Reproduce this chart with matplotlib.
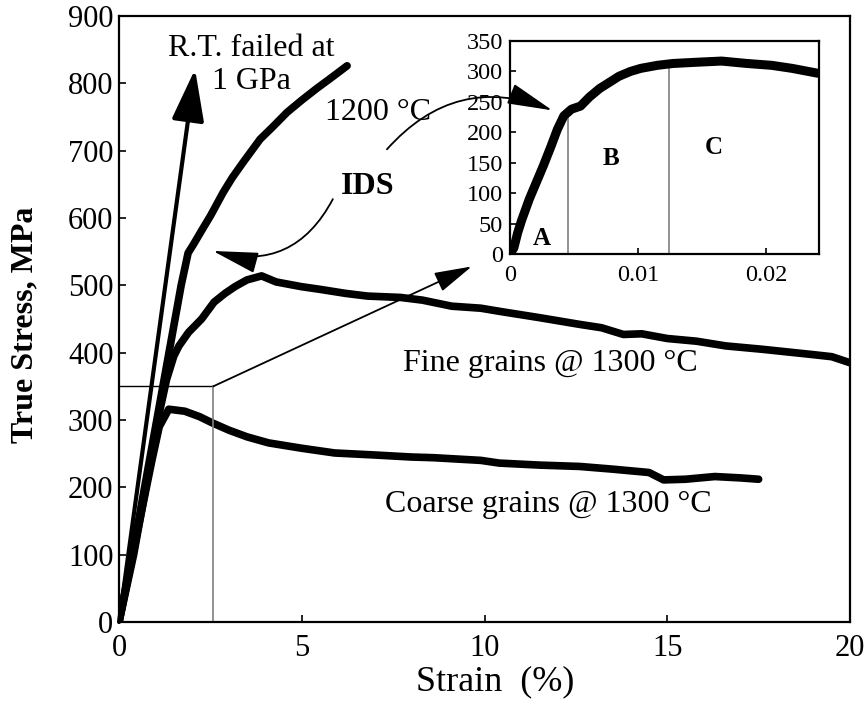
import matplotlib.pyplot as plt

plt.rcParams['font.family'] = ['Liberation Serif', 'DejaVu Serif']

# main plot: strain (%) vs true stress (MPa)
rt_strain = [0, 2.08]
rt_stress = [0, 821]

c1200_strain = [0, 0.4, 0.8, 1.1, 1.3, 1.5, 1.7, 1.89, 2.05, 2.3, 2.5, 2.85, 3.1, 3.4,
                3.86, 4.2, 4.6, 5.0, 5.4, 5.8, 6.24]
c1200_stress = [0, 110, 230, 320, 380, 440, 500, 548, 562, 585, 603, 638, 660, 683,
                717, 735, 757, 775, 792, 808, 826]

fine_strain = [0, 0.4, 0.8, 1.1, 1.3, 1.5, 1.64, 1.9, 2.26, 2.6, 2.9, 3.17, 3.5, 3.9,
               4.3, 4.99, 5.5, 6.2, 6.8, 7.7, 8.3, 9.1, 9.9, 10.45, 11.5, 12.6, 13.2,
               13.8, 14.3, 15.0, 15.8, 16.6, 17.6, 18.3, 19.0, 19.5, 20.0]
fine_stress = [0, 100, 220, 310, 360, 395, 410, 430, 450, 475, 488, 498, 508, 514,
               505, 498, 494, 488, 484, 482, 478, 469, 466, 461, 452, 442, 437,
               427, 428, 421, 417, 410, 405, 401, 397, 394, 385]

coarse_strain = [0, 0.3, 0.6, 0.9, 1.1, 1.36, 1.8, 2.2, 2.54, 3.0, 3.5, 4.09, 5.0, 5.9,
                 7.0, 8.0, 8.6, 9.9, 10.4, 11.5, 12.6, 13.5, 14.5, 14.9, 15.5, 16.3,
                 17.0, 17.5]
coarse_stress = [0, 80, 160, 240, 290, 316, 313, 305, 296, 285, 275, 266, 258, 251,
                 248, 245, 244, 240, 236, 233, 231, 227, 222, 211, 212, 216,
                 214, 212]

# zoomed box shown in the inset
zoom_strain = 2.58
zoom_stress = 350

# inset: strain (-) vs true stress (MPa), 1200 C test
inset_strain = [0, 0.0003, 0.0006, 0.0009, 0.0015, 0.002, 0.0026, 0.0032, 0.0037,
                0.0042, 0.0048, 0.0055, 0.0062, 0.007, 0.0076, 0.0085, 0.0094,
                0.0102, 0.0115, 0.0127, 0.0145, 0.0165, 0.0185, 0.0204, 0.022, 0.024]
inset_stress = [0, 10, 35, 55, 90, 115, 145, 177, 205,
                227, 238, 243, 258, 272, 280, 292, 300,
                305, 310, 313, 315, 317, 313, 310, 305, 297]
zone_bounds = [0.0045, 0.0124]
zone_tops = [225, 305]
zone_labels = ["A", "B", "C"]
zone_label_x = [0.00245, 0.0079, 0.0159]
zone_label_y = [26, 157, 175]

fig = plt.figure(figsize=(8.65, 7.04), dpi=100)
ax = fig.add_axes([0.1376, 0.1165, 0.8451, 0.8608])

line_kw = dict(color='black', lw=5.5, solid_joinstyle='round', solid_capstyle='round')
ax.plot(c1200_strain, c1200_stress, **line_kw)
ax.plot(fine_strain, fine_stress, **line_kw)
ax.plot(coarse_strain, coarse_stress, **line_kw)

# R.T. sample: straight line ending in an arrow
ax.annotate('', xy=(rt_strain[1], rt_stress[1]), xytext=(rt_strain[0], rt_stress[0]),
            arrowprops=dict(arrowstyle='-|>,head_length=1.6,head_width=0.5',
                            mutation_scale=20, lw=3, color='black',
                            shrinkA=0, shrinkB=0))

# box of the zoomed region
ax.plot([0, zoom_strain], [zoom_stress, zoom_stress], color='black', lw=1)
ax.plot([zoom_strain, zoom_strain], [0, zoom_stress], color='gray', lw=1.2)
ax.annotate('', xy=(9.65, 528), xytext=(zoom_strain, zoom_stress),
            arrowprops=dict(arrowstyle='-|>,head_length=1.3,head_width=0.35',
                            mutation_scale=18, lw=1.3, color='black',
                            shrinkA=0, shrinkB=0))

# text labels
ax.text(3.61, 851, 'R.T. failed at', fontsize=23, ha='center', va='center')
ax.text(3.61, 802, '1 GPa', fontsize=23, ha='center', va='center')
ax.text(7.09, 756, '1200 °C', fontsize=23, ha='center', va='center')
ax.text(6.79, 647, 'IDS', fontsize=23, fontweight='bold', ha='center', va='center')
ax.text(11.8, 384, 'Fine grains @ 1300 °C', fontsize=23, ha='center', va='center')
ax.text(11.76, 174, 'Coarse grains @ 1300 °C', fontsize=23, ha='center', va='center')

# IDS arrow
ax.annotate('', xy=(2.57, 551), xytext=(5.85, 628),
            arrowprops=dict(arrowstyle='-|>,head_length=1.3,head_width=0.3',
                            mutation_scale=22, lw=1.3, color='black',
                            connectionstyle='arc3,rad=-0.4',
                            shrinkA=0, shrinkB=0))

ax.set_xlim(0, 20)
ax.set_ylim(0, 900)
ax.set_xticks([0, 5, 10, 15, 20])
ax.set_yticks(range(0, 1000, 100))
ax.tick_params(direction='in', length=5, width=1.2, labelsize=22)
ax.tick_params(axis='x', pad=9)
ax.tick_params(axis='y', pad=4)
for s in ax.spines.values():
    s.set_linewidth(1.6)

ax.set_xlabel('Strain  (%)', fontsize=26, va='center')
ax.xaxis.set_label_coords(0.514, -0.099)
ax.set_ylabel('True Stress, MPa', fontsize=23, fontweight='bold', va='center')
ax.yaxis.set_label_coords(-0.1286, 0.49)

# inset
axin = fig.add_axes([0.5896, 0.6392, 0.3572, 0.3026])
axin.vlines(zone_bounds, 0, zone_tops, color='gray', lw=1.2)
axin.plot(inset_strain, inset_stress, color='black', lw=6.5,
          solid_joinstyle='round', solid_capstyle='round')
for lab, x, y in zip(zone_labels, zone_label_x, zone_label_y):
    axin.text(x, y, lab, fontsize=18, fontweight='bold', ha='center', va='center')
axin.set_xlim(0, 0.0241)
axin.set_ylim(0, 350)
axin.set_xticks([0, 0.01, 0.02])
axin.set_xticklabels(['0', '0.01', '0.02'])
axin.set_yticks(range(0, 400, 50))
axin.tick_params(direction='in', length=4, width=1.2, labelsize=17.5)
axin.tick_params(axis='x', pad=8)
axin.tick_params(axis='y', pad=5)
for s in axin.spines.values():
    s.set_linewidth(1.6)

# 1200 C arrow from the main plot into the inset, drawn on top of the inset
axin.annotate('', xy=(0.0033, 236), xytext=(7.33, 702), textcoords=ax.transData,
              annotation_clip=False,
              arrowprops=dict(arrowstyle='-|>,head_length=1.3,head_width=0.3',
                              mutation_scale=22, lw=1.3, color='black',
                              connectionstyle='arc3,rad=-0.35',
                              shrinkA=0, shrinkB=0))

fig.savefig('out.png', dpi=100)
